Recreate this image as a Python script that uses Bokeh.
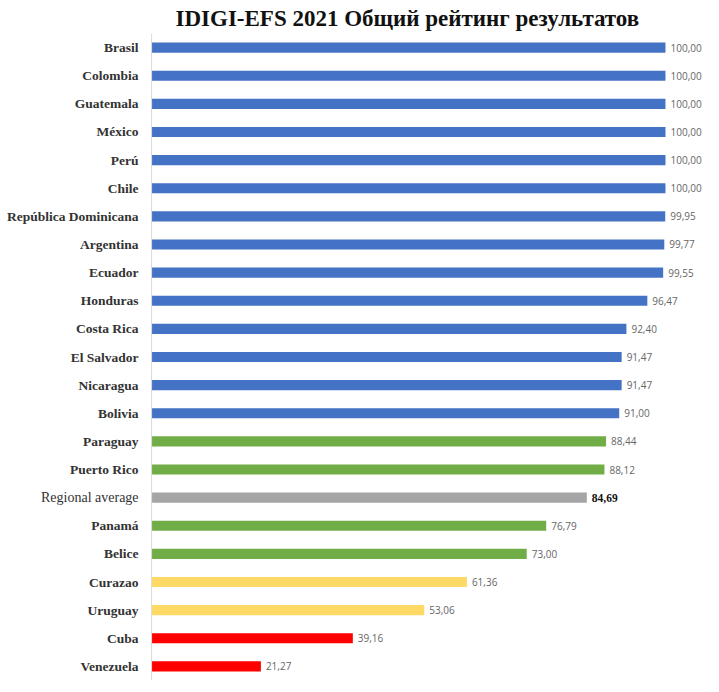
from bokeh.plotting import figure
from bokeh.models import ColumnDataSource, FactorRange, Range1d, Span, Title
from bokeh.core.properties import value
from bokeh.embed import file_html
from bokeh.resources import INLINE

countries = ["Brasil", "Colombia", "Guatemala", "México", "Perú", "Chile",
             "República Dominicana", "Argentina", "Ecuador", "Honduras",
             "Costa Rica", "El Salvador", "Nicaragua", "Bolivia", "Paraguay",
             "Puerto Rico", "Regional average", "Panamá", "Belice", "Curazao",
             "Uruguay", "Cuba", "Venezuela"]
scores = [100.00, 100.00, 100.00, 100.00, 100.00, 100.00, 99.95, 99.77, 99.55,
          96.47, 92.40, 91.47, 91.47, 91.00, 88.44, 88.12, 84.69, 76.79, 73.00,
          61.36, 53.06, 39.16, 21.27]
groups = ["high"] * 14 + ["mid"] * 2 + ["avg"] + ["mid"] * 2 + ["low"] * 2 + ["crit"] * 2
group_colors = {"high": "#4472C4", "mid": "#70AD47", "avg": "#A5A5A5",
                "low": "#FFD966", "crit": "#FF0000"}

colors = [group_colors[g] for g in groups]
labels = [f"{v:.2f}".replace(".", ",") for v in scores]

is_avg = [g == "avg" for g in groups]


def subset(flag):
    keep = [a == flag for a in is_avg]
    return ColumnDataSource(dict(
        c=[c for c, k in zip(countries, keep) if k],
        v=[v for v, k in zip(scores, keep) if k],
        col=[x for x, k in zip(colors, keep) if k],
        lab=[l for l, k in zip(labels, keep) if k],
        z=[0 for k in keep if k]))


src_main = subset(False)
src_avg = subset(True)

p = figure(width=703, height=684, output_backend="svg", toolbar_location=None,
           y_range=FactorRange(*reversed(countries)),
           x_range=Range1d(-29.4, 107.4),
           min_border_left=0, min_border_right=0, min_border_bottom=4,
           min_border_top=0)
p.title = Title(text="IDIGI-EFS 2021 Общий рейтинг результатов",
                text_font="Liberation Serif", text_font_style="bold",
                text_font_size="23px", text_color="#111111", align="left",
                offset=175, standoff=6)
p.xaxis.visible = False
p.yaxis.visible = False
p.xgrid.visible = False
p.ygrid.visible = False
p.outline_line_color = None

p.add_layout(Span(location=0, dimension="height", line_color="#d9d9d9", line_width=1))

for src in (src_main, src_avg):
    p.hbar(y="c", left=0, right="v", height=0.36, fill_color="col",
           line_color=None, source=src)

p.text(x="z", y="c", text="c", source=src_main, x_offset=-13, text_align="right",
       text_baseline="middle", text_font=value("Liberation Serif"),
       text_font_style="bold", text_font_size="13.5px", text_color="#333333")
p.text(x="z", y="c", text="c", source=src_avg, x_offset=-13, text_align="right",
       text_baseline="middle", text_font=value("Liberation Serif"),
       text_font_size="14px", text_color="#333333")

p.text(x="v", y="c", text="lab", source=src_main, x_offset=5, text_align="left",
       text_baseline="middle", text_font=value("Open Sans"),
       text_font_size="10px", text_color="#666666")
p.text(x="v", y="c", text="lab", source=src_avg, x_offset=5, text_align="left",
       text_baseline="middle", text_font=value("Liberation Serif"),
       text_font_style="bold", text_font_size="11.5px", text_color="#111111")

open("out.html", "w").write(file_html(p, INLINE))
